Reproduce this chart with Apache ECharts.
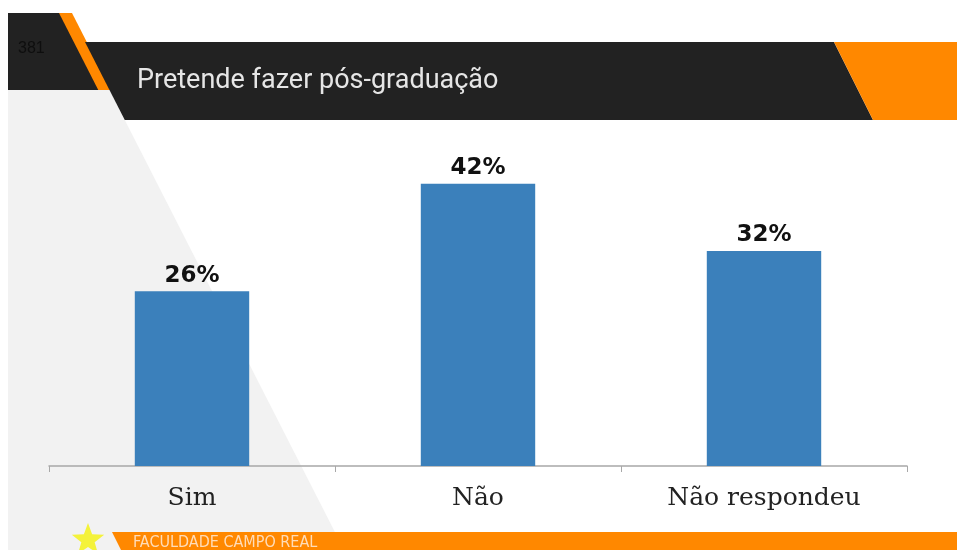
<!DOCTYPE html>
<html>
<head>
<meta charset="utf-8">
<script src="https://cdn.jsdelivr.net/npm/echarts@6/dist/echarts.min.js"></script>
<style>
  html, body { margin: 0; padding: 0; background: #fff; }
  #chart { width: 957px; height: 550px; }
</style>
</head>
<body>
<div id="chart"></div>
<script>
// dados do slide
const categorias = ['Sim', 'Não', 'Não respondeu']
const percentuais = [26, 42, 32]

const tituloSlide = 'Pretende fazer pós-graduação'
const numeroSlide = '381'
const rodape = 'FACULDADE CAMPO REAL'

const DARK = '#222222'
const ORANGE = '#ff8800'
const GREY = '#f2f2f2'

// linha diagonal do cabeçalho: x = 85 + 0.51 * (y - 42)
const diag = y => 85 + 0.51 * (y - 42)

// pontos da estrela do rodapé
const estrela = (cx, cy, R, r) => {
  const pts = []
  for (let i = 0; i < 10; i++) {
    const a = -Math.PI / 2 + i * Math.PI / 5
    const rr = i % 2 === 0 ? R : r
    pts.push([cx + rr * Math.cos(a), cy + rr * Math.sin(a)])
  }
  return pts
}

const chart = echarts.init(document.getElementById('chart'))

chart.setOption({
  animation: false,
  backgroundColor: '#fff',
  title: {
    text: tituloSlide,
    left: 132,
    top: 63,
    textStyle: {
      color: '#e6e6e6',
      fontFamily: 'Roboto',
      fontWeight: 'normal',
      fontSize: 27
    }
  },
  grid: { left: 49, right: 50, top: 130, bottom: 84 },
  xAxis: {
    type: 'category',
    data: categorias,
    axisLine: { lineStyle: { color: '#a8a8a8', width: 1.5 } },
    axisTick: { show: true, length: 6, lineStyle: { color: '#a8a8a8' } },
    axisLabel: {
      margin: 20,
      fontFamily: 'DejaVu Serif',
      fontSize: 25,
      color: '#222'
    }
  },
  yAxis: {
    type: 'value',
    min: 0,
    max: 50,
    show: false,
    splitLine: { show: false }
  },
  series: [{
    type: 'bar',
    data: percentuais,
    barWidth: '40%',
    itemStyle: { color: '#3b80bb' },
    label: {
      show: true,
      position: 'top',
      distance: 4,
      formatter: '{c}%',
      fontFamily: 'DejaVu Sans',
      fontWeight: 'bold',
      fontSize: 23,
      color: '#111'
    },
    z: 5
  }],
  graphic: [
    // fundo cinza em triângulo
    {
      type: 'polygon', z: -10, silent: true,
      shape: { points: [[8, 90], [diag(90), 90], [diag(550), 550], [8, 550]] },
      style: { fill: GREY }
    },
    // bloco escuro à esquerda
    {
      type: 'polygon', z: -9, silent: true,
      shape: { points: [[8, 13], [60, 13], [60 + 0.51 * 77, 90], [8, 90]] },
      style: { fill: DARK }
    },
    // faixa laranja diagonal
    {
      type: 'polygon', z: -8, silent: true,
      shape: { points: [[59, 13], [72, 13], [72 + 0.51 * 77, 90], [59 + 0.51 * 77, 90]] },
      style: { fill: ORANGE }
    },
    // barra escura do título
    {
      type: 'polygon', z: -7, silent: true,
      shape: { points: [[diag(42), 42], [834, 42], [873, 120], [diag(120), 120]] },
      style: { fill: DARK }
    },
    // laranja à direita do título
    {
      type: 'polygon', z: -7, silent: true,
      shape: { points: [[834, 42], [957, 42], [957, 120], [873, 120]] },
      style: { fill: ORANGE }
    },
    // rodapé laranja
    {
      type: 'polygon', z: -7, silent: true,
      shape: { points: [[112, 532], [957, 532], [957, 550], [121, 550]] },
      style: { fill: ORANGE }
    },
    // estrela amarela
    {
      type: 'polygon', z: -6, silent: true,
      shape: { points: estrela(88, 540, 17, 7) },
      style: { fill: '#f4f23a' }
    },
    {
      type: 'text', z: 10, silent: true,
      left: 18, top: 41,
      style: {
        text: numeroSlide,
        fill: '#0e0e0e',
        font: '16px "Liberation Sans"'
      }
    },
    {
      type: 'text', z: 10, silent: true,
      left: 133, top: 535,
      style: {
        text: rodape,
        fill: '#ffdcb8',
        font: '16px "DejaVu Sans Condensed"'
      }
    }
  ]
})
</script>
</body>
</html>
